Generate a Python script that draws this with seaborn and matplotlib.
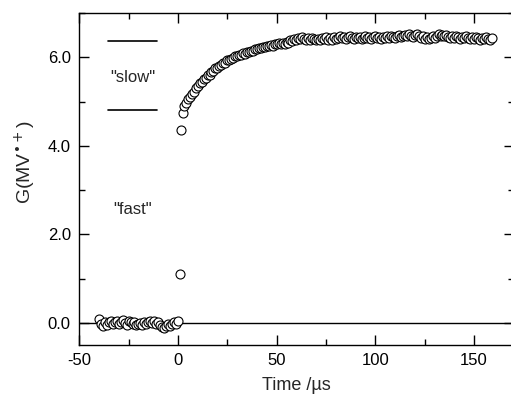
import numpy as np
import pandas as pd
import matplotlib
matplotlib.use("Agg")
import matplotlib.pyplot as plt
from matplotlib.ticker import MultipleLocator
import seaborn as sns

# ---- data ----
t_pre = np.arange(-40, 1)  # -40 ... 0 us
g_pre = [0.08, -0.02, -0.06, 0.03, -0.04, 0.02, 0.05, -0.03, 0.01, 0.04,
         -0.02, 0.03, 0.06, 0.00, -0.04, 0.05, 0.02, -0.03, 0.01, -0.05,
         -0.02, 0.00, -0.04, 0.01, -0.03, 0.03, 0.05, 0.00, 0.04, -0.02,
         0.02, -0.05, -0.09, -0.12, -0.07, -0.03, -0.08, -0.02, 0.01, -0.03,
         0.05]

t_jump = [0.8, 1.5, 2.4]
g_jump = [1.10, 4.35, 4.75]

t_post = np.arange(3, 160)
g_post = [4.90, 4.97, 5.06, 5.10, 5.18, 5.22, 5.30, 5.34, 5.41, 5.44,
          5.50, 5.53, 5.59, 5.61, 5.67, 5.69, 5.75, 5.76, 5.81, 5.82,
          5.87, 5.88, 5.93, 5.93, 5.97, 5.98, 6.02, 6.02, 6.05, 6.06,
          6.09, 6.08, 6.12, 6.13, 6.15, 6.15, 6.19, 6.18, 6.22, 6.20,
          6.24, 6.23, 6.26, 6.25, 6.28, 6.26, 6.30, 6.29, 6.32, 6.30,
          6.33, 6.31, 6.35, 6.33, 6.38, 6.36, 6.42, 6.40, 6.44, 6.41,
          6.45, 6.42, 6.40, 6.43, 6.39, 6.44, 6.41, 6.38, 6.42, 6.40,
          6.44, 6.41, 6.45, 6.39, 6.43, 6.40, 6.46, 6.42, 6.44, 6.47,
          6.43, 6.45, 6.41, 6.46, 6.48, 6.44, 6.42, 6.46, 6.43, 6.45,
          6.41, 6.44, 6.47, 6.43, 6.46, 6.42, 6.45, 6.48, 6.44, 6.46,
          6.42, 6.45, 6.43, 6.47, 6.44, 6.49, 6.46, 6.43, 6.47, 6.50,
          6.46, 6.48, 6.51, 6.47, 6.52, 6.49, 6.46, 6.50, 6.53, 6.48,
          6.44, 6.47, 6.42, 6.45, 6.41, 6.44, 6.47, 6.43, 6.49, 6.52,
          6.48, 6.51, 6.47, 6.50, 6.46, 6.43, 6.47, 6.44, 6.48, 6.45,
          6.42, 6.46, 6.43, 6.47, 6.44, 6.41, 6.45, 6.42, 6.46, 6.43,
          6.40, 6.44, 6.41, 6.45, 6.42, 6.39, 6.43]

slow_levels = [6.36, 4.80]
slow_x = [-35.5, -10.5]

df = pd.DataFrame({
    "time": np.concatenate([t_pre, t_jump, t_post]),
    "G": np.concatenate([g_pre, g_jump, g_post]),
})

# ---- style ----
sns.set_style("ticks")
plt.rcParams["font.family"] = ["Liberation Sans", "DejaVu Sans"]
plt.rcParams["axes.unicode_minus"] = False

fig = plt.figure(figsize=(5.11, 4.0), dpi=100, facecolor="white")
ax = fig.add_axes([0.155, 0.1375, 0.85, 0.83])

ax.axhline(0, color="black", lw=1.0, zorder=1)
for lvl in slow_levels:
    ax.plot(slow_x, [lvl, lvl], color="black", lw=1.2)

sns.scatterplot(data=df, x="time", y="G", ax=ax, marker="o", s=42,
                facecolor="white", edgecolor="black", linewidth=0.8, zorder=3)

ax.text(-23, 5.55, '"slow"', ha="center", va="center", fontsize=12)
ax.text(-23, 2.55, '"fast"', ha="center", va="center", fontsize=12)

ax.set_xlim(-50, 170)
ax.set_ylim(-0.5, 7.0)
ax.xaxis.set_major_locator(MultipleLocator(50))
ax.xaxis.set_minor_locator(MultipleLocator(25))
ax.yaxis.set_major_locator(MultipleLocator(2))
ax.yaxis.set_minor_locator(MultipleLocator(1))
ax.yaxis.set_major_formatter(plt.FormatStrFormatter("%.1f"))
ax.tick_params(which="both", direction="in", top=True, right=True,
               labelsize=12, colors="black", width=1.0)
ax.tick_params(which="major", length=7, pad=6)
ax.tick_params(which="minor", length=4)
for sp in ax.spines.values():
    sp.set_color("black")
    sp.set_linewidth(1.0)
ax.spines["right"].set_visible(False)

ax.set_xlabel("Time /\u00b5s", fontsize=13, labelpad=6)
ax.set_ylabel("G(MV$^{\u2022+}$)", fontsize=14)
ax.yaxis.set_label_coords(-0.095, 0.55)

fig.savefig("out.png", dpi=100, facecolor="white")
